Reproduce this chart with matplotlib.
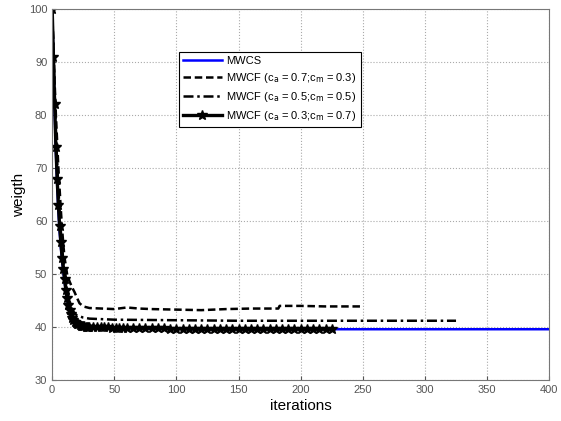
import numpy as np
import matplotlib
matplotlib.use('Agg')
import matplotlib.pyplot as plt

plt.rcParams['font.family'] = ['Liberation Sans', 'DejaVu Sans']

# MWCS (blue), runs the full 400 iterations
it_mwcs = [0, 1, 2, 3, 4, 5, 6, 7, 8, 9, 10, 12, 14, 16, 18, 20, 25, 30, 40, 60, 80, 100, 120, 150, 200, 250, 300, 350, 400]
w_mwcs = [100, 90, 81, 73, 67, 62, 58, 55, 52.5, 50.5, 48.5, 45.2, 43.0, 41.7, 41.0, 40.6, 40.2, 40.0, 39.9, 39.8, 39.7, 39.7, 39.6, 39.6, 39.6, 39.6, 39.6, 39.6, 39.6]

# MWCF ca=0.7, cm=0.3 (dashed)
it_f1 = [0, 1, 2, 3, 4, 5, 6, 7, 8, 9, 10, 11, 12, 14, 16, 18, 20, 22, 25, 30, 40, 50, 60, 70, 80, 100, 120, 140, 160, 182, 183, 200, 220, 250]
w_f1 = [100, 93, 86, 80, 75, 70, 66, 62, 58.5, 55.5, 53, 51.5, 50, 48.6, 47.5, 46.6, 45.5, 44.5, 43.9, 43.6, 43.5, 43.4, 43.7, 43.5, 43.4, 43.3, 43.2, 43.4, 43.5, 43.5, 44.0, 44.0, 43.9, 43.9]

# MWCF ca=0.5, cm=0.5 (dash-dot)
it_f2 = [0, 1, 2, 3, 4, 5, 6, 7, 8, 9, 10, 11, 12, 13, 14, 15, 16, 17, 18, 20, 25, 30, 50, 100, 150, 200, 250, 300, 325]
w_f2 = [100, 92, 84, 77, 71, 66, 62, 58, 55, 52.5, 50.5, 49, 47.5, 46, 45, 44, 43.4, 43, 42.6, 42.2, 41.8, 41.6, 41.4, 41.3, 41.2, 41.2, 41.2, 41.2, 41.2]

# MWCF ca=0.3, cm=0.7 (solid with stars)
it_f3 = [0, 1, 2, 3, 4, 5, 6, 7, 8, 9, 10, 11, 12, 13, 14, 15, 16, 17, 18, 19, 20, 21, 22, 23, 24, 25, 26, 27, 28, 29, 30,
         33, 36, 39, 42, 45, 48, 51, 54, 57, 60, 65, 70, 75, 80, 85, 90, 95, 100, 105, 110, 115, 120, 125, 130, 135, 140,
         145, 150, 155, 160, 165, 170, 175, 180, 185, 190, 195, 200, 205, 210, 215, 220, 225]
w_f3 = [100, 91, 82, 74, 68, 63, 59, 56, 53, 51, 49, 47, 45.5, 44.2, 43.2, 42.4, 41.8, 41.3, 41.0, 40.8, 40.6, 40.5, 40.4, 40.3, 40.3, 40.2, 40.2, 40.1, 40.1, 40.1, 40.1,
        40.0, 40.0, 40.0, 40.0, 40.0, 39.9, 39.9, 39.9, 39.9, 39.9, 39.9, 39.8, 39.8, 39.8, 39.8, 39.8, 39.7, 39.7, 39.7, 39.7, 39.7, 39.6, 39.6, 39.6, 39.6, 39.6,
        39.6, 39.6, 39.6, 39.6, 39.6, 39.6, 39.6, 39.6, 39.6, 39.6, 39.6, 39.6, 39.6, 39.6, 39.6, 39.6, 39.6]

xticks = [0, 50, 100, 150, 200, 250, 300, 350, 400]
yticks = [30, 40, 50, 60, 70, 80, 90, 100]

fig = plt.figure(figsize=(5.61, 4.21), dpi=100)
ax = fig.add_axes([0.093, 0.097, 0.886, 0.882])

ax.plot(it_mwcs, w_mwcs, color=(0, 0, 1), lw=1.8, label='MWCS')
ax.plot(it_f1, w_f1, color='k', lw=1.8, ls=(0, (3, 1.5)), label=r'MWCF (c$_\mathrm{a}$ = 0.7;c$_\mathrm{m}$ = 0.3)')
ax.plot(it_f2, w_f2, color='k', lw=1.8, ls=(0, (4, 1.5, 1, 1.5)), label=r'MWCF (c$_\mathrm{a}$ = 0.5;c$_\mathrm{m}$ = 0.5)')
ax.plot(it_f3, w_f3, color='k', lw=2.4, marker='*', ms=7, label=r'MWCF (c$_\mathrm{a}$ = 0.3;c$_\mathrm{m}$ = 0.7)')

ax.set_xlim(0, 400)
ax.set_ylim(30, 100)
ax.set_xticks(xticks)
ax.set_yticks(yticks)
ax.tick_params(direction='in', labelsize=8, colors='#555555', length=3)
ax.grid(True, ls=':', color='#aaaaaa', lw=0.8)
for s in ax.spines.values():
    s.set_color('#777777')

ax.set_xlabel('iterations', fontsize=11, labelpad=3)
ax.set_ylabel('weigth', fontsize=11, labelpad=2)

leg = ax.legend(loc='upper left', bbox_to_anchor=(0.243, 0.9), fontsize=8, numpoints=1,
                fancybox=False, framealpha=1, edgecolor='k', handlelength=3.5,
                borderpad=0.4, labelspacing=0.45, handletextpad=0.4)
leg.get_frame().set_linewidth(0.8)

fig.savefig('out.png', dpi=100)
